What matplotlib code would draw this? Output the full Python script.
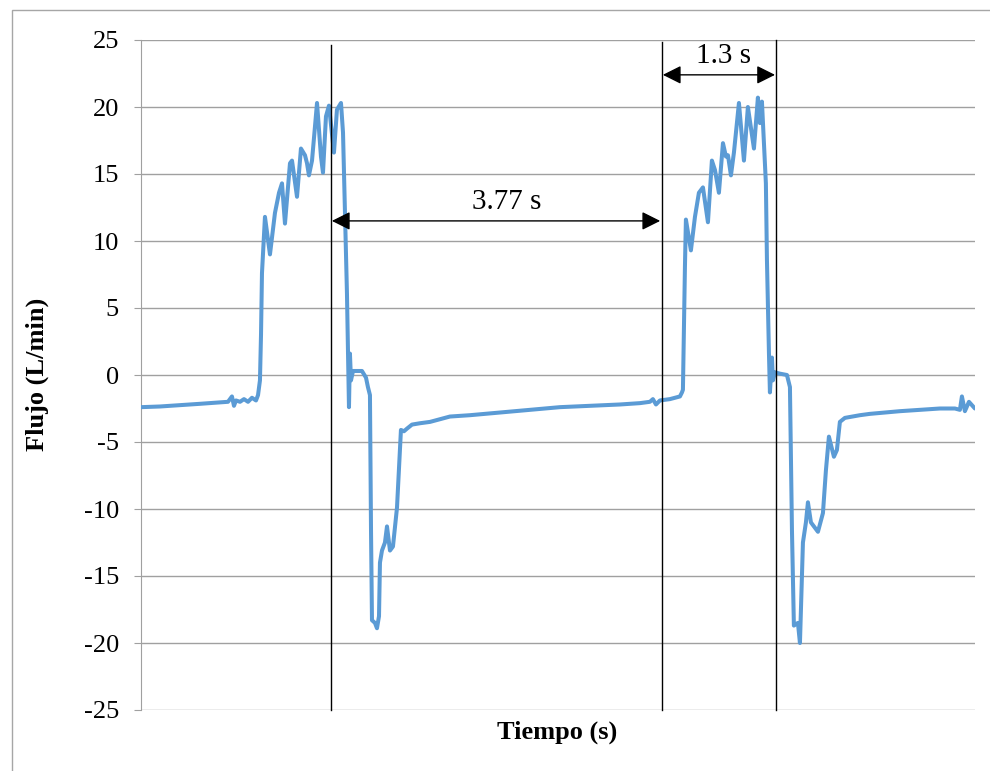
import matplotlib.pyplot as plt
from matplotlib.patches import Rectangle

plt.rcParams['font.family'] = ['Liberation Serif', 'DejaVu Serif']
plt.rcParams['axes.unicode_minus'] = False

# tiempo (s) y flujo (L/min)
tiempo = [0.000, 0.216, 0.444, 0.672, 0.991, 1.036, 1.059, 1.082, 1.128, 1.173,
          1.219, 1.264, 1.310, 1.333, 1.355, 1.367, 1.378, 1.412, 1.469, 1.526,
          1.572, 1.606, 1.640, 1.697, 1.720, 1.777, 1.822, 1.868, 1.891, 1.913,
          1.948, 2.005, 2.050, 2.073, 2.107, 2.141, 2.198, 2.232, 2.278, 2.301,
          2.323, 2.346, 2.358, 2.369, 2.380, 2.392, 2.415, 2.517, 2.563, 2.585,
          2.608, 2.620, 2.631, 2.665, 2.688, 2.711, 2.722, 2.745, 2.779, 2.802,
          2.836, 2.870, 2.916, 2.938, 2.961, 2.995, 3.030, 3.087, 3.178, 3.292,
          3.405, 3.519, 3.747, 4.089, 4.431, 4.772, 5.114, 5.456, 5.683, 5.797,
          5.831, 5.866, 5.911, 6.025, 6.139, 6.162, 6.173, 6.196, 6.207, 6.264,
          6.310, 6.355, 6.401, 6.458, 6.503, 6.538, 6.583, 6.629, 6.663, 6.686,
          6.720, 6.754, 6.811, 6.868, 6.913, 6.982, 7.027, 7.050, 7.073, 7.118,
          7.130, 7.153, 7.164, 7.187, 7.198, 7.221, 7.278, 7.358, 7.392, 7.415,
          7.437, 7.483, 7.506, 7.540, 7.574, 7.597, 7.631, 7.711, 7.768, 7.802,
          7.836, 7.893, 7.927, 7.961, 8.018, 8.189, 8.303, 8.474, 8.645, 8.872,
          9.100, 9.271, 9.328, 9.351, 9.385, 9.431, 9.499]
flujo = [-2.4, -2.35, -2.25, -2.15, -2.0, -1.6, -2.3, -1.9, -2.0, -1.8,
         -2.0, -1.7, -1.9, -1.5, -0.4, 3.0, 7.6, 11.8, 9.0, 12.1,
         13.6, 14.3, 11.3, 15.8, 16.0, 13.3, 16.9, 16.4, 15.8, 14.9,
         16.0, 20.3, 16.3, 15.1, 19.3, 20.1, 16.6, 19.8, 20.3, 18.1,
         12.1, 6.1, 1.6, -2.4, 1.6, -0.4, 0.3, 0.3, -0.2, -0.9,
         -1.5, -11.6, -18.3, -18.5, -18.9, -18.0, -14.0, -13.1, -12.5, -11.3,
         -13.1, -12.8, -9.9, -7.1, -4.1, -4.2, -4.0, -3.7, -3.6, -3.5,
         -3.3, -3.1, -3.0, -2.8, -2.6, -2.4, -2.3, -2.2, -2.1, -2.0,
         -1.8, -2.2, -1.9, -1.8, -1.6, -1.3, -1.1, 8.1, 11.6, 9.3,
         11.8, 13.6, 14.0, 11.4, 16.0, 15.3, 13.6, 17.3, 16.3, 16.4,
         14.9, 16.6, 20.3, 16.0, 20.0, 16.9, 20.7, 18.8, 20.4, 14.3,
         8.6, 1.6, -1.3, 1.3, -0.4, 0.2, 0.1, 0.0, -0.9, -11.6,
         -18.7, -18.5, -20.0, -12.5, -11.0, -9.5, -11.0, -11.7, -10.3, -7.1,
         -4.6, -6.1, -5.6, -3.5, -3.2, -3.0, -2.9, -2.8, -2.7, -2.6,
         -2.5, -2.5, -2.6, -1.6, -2.7, -2.0, -2.5]

lineas_t = [2.164, 5.934, 7.232]
lineas_top = [24.6, 24.85, 25.0]

fig = plt.figure(figsize=(9.9, 7.71), dpi=100)
fig.patches.append(Rectangle((12 / 990, -0.1), 1.2, 1.1 - 10 / 771,
                             transform=fig.transFigure, fill=False,
                             edgecolor='#a6a6a6', linewidth=1.0))
ax = fig.add_axes([141 / 990, 61 / 771, 834 / 990, 670 / 771])

ax.plot(tiempo, flujo, color='#5b9bd5', linewidth=2.9, zorder=3,
        solid_joinstyle='round', solid_capstyle='round')

ax.set_xlim(0, 9.5)
ax.set_ylim(-25, 25)
ax.set_yticks(range(-25, 26, 5))
ax.set_xticks([])
ax.grid(axis='y', color='#a0a0a0', linewidth=1.0)
for s in ['top', 'right', 'bottom']:
    ax.spines[s].set_visible(False)
ax.spines['left'].set_color('#a0a0a0')
ax.tick_params(axis='y', direction='out', length=5, color='#a0a0a0',
               labelsize=19, pad=11)

for t, top in zip(lineas_t, lineas_top):
    ax.plot([t, t], [-25, top], color='black', linewidth=1.0, zorder=4,
            clip_on=False)

flecha = dict(arrowstyle='<|-|>', color='black', lw=1.0,
              mutation_scale=28, shrinkA=0, shrinkB=0)
ax.annotate('', xy=(lineas_t[0] + 0.01, 11.5), xytext=(lineas_t[1] - 0.02, 11.5),
            arrowprops=flecha)
ax.annotate('', xy=(lineas_t[1] + 0.01, 22.4), xytext=(lineas_t[2] - 0.01, 22.4),
            arrowprops=flecha)
ax.text(4.17, 12.9, '3.77 s', fontsize=21, ha='center', va='center')
ax.text(6.64, 23.8, '1.3 s', fontsize=21, ha='center', va='center')

fig.text(557 / 990, 1 - 732 / 771, 'Tiempo (s)', fontsize=19,
         fontweight='bold', ha='center', va='center')
fig.text(37 / 990, 1 - 374 / 771, 'Flujo (L/min)', fontsize=19,
         fontweight='bold', ha='center', va='center', rotation=90)

fig.savefig('out.png', dpi=100)
